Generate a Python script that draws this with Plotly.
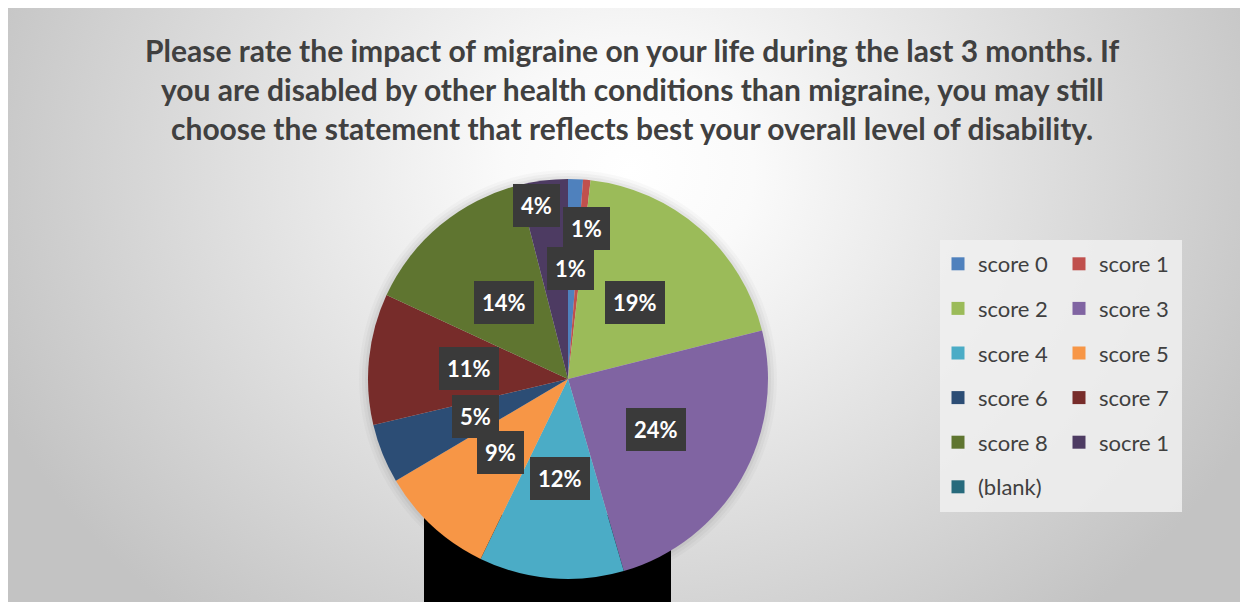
import base64
import math
import plotly.graph_objects as go

W, H = 1248, 602
OFF = 8  # page body margin: screen px = figure px + OFF

# ---------------- data ----------------
title_lines = [
    "Please rate the impact of migraine on your life during the last 3 months. If",
    "you are disabled by other health conditions than migraine, you may still",
    "choose the statement that reflects best your overall level of disability.",
]
labels = ["score 0", "score 1", "score 2", "score 3", "score 4", "score 5",
          "score 6", "score 7", "score 8", "socre 1", "(blank)"]
values = [1.2, 0.6, 19.3, 24.4, 11.7, 9.3, 4.8, 10.6, 14.1, 4.0, 0.0]
colors = ["#4F81BD", "#C0504D", "#9BBB59", "#8064A2", "#4BACC6", "#F79646",
          "#2C4D75", "#772C2A", "#5F7530", "#4D3B62", "#276A7C"]
legend_col1 = ["score 0", "score 2", "score 4", "score 6", "score 8", "(blank)"]
legend_col2 = ["score 1", "score 3", "score 5", "score 7", "socre 1"]

# label placement (fraction of pie radius, angle shift in degrees) -
# Excel moved the labels of the small slices
label_rfrac = [0.555, 0.76, 0.51, 0.51, 0.5, 0.5, 0.5, 0.5, 0.5, 0.88, 0.5]
label_dang = [-1.0, 1.5, 0, 0, 0, 0, 0, 0, 0, -3.0, 0]


def px_x(sx):
    """screen x (px) -> paper fraction"""
    return (sx - OFF) / W


def px_y(sy):
    """screen y (px) -> paper fraction"""
    return (H - (sy - OFF)) / H


# ---------------- geometry (screen pixels) ----------------
CX, CY, R = 568, 379, 200
dom_x = [px_x(CX - R), px_x(CX + R)]
dom_y = [px_y(CY + R), px_y(CY - R)]

fig = go.Figure()

fig.add_trace(go.Pie(
    labels=labels, values=values, sort=False, direction="clockwise",
    rotation=0, marker=dict(colors=colors, line=dict(width=0)),
    textinfo="none", showlegend=False, domain=dict(x=dom_x, y=dom_y),
    hovertemplate="%{label}: %{percent}<extra></extra>",
))

# legend entries (two columns, via two legends)
cmap = dict(zip(labels, colors))
for col, lg in ((legend_col1, "legend"), (legend_col2, "legend2")):
    for i, lab in enumerate(col):
        fig.add_trace(go.Scatter(
            x=[None], y=[None], mode="markers", name=lab,
            marker=dict(symbol="square", size=13, color=cmap[lab]),
            legend=lg, legendgroup=f"{lg}_{i}", showlegend=True,
            hoverinfo="skip",
        ))

# data labels in dark boxes at the slice mid-angles
total = sum(values)
annotations = []
cum = 0.0
for lab, v, rf, da in zip(labels, values, label_rfrac, label_dang):
    if v > 0:
        mid = (cum + v / 2) / total * 2 * math.pi + math.radians(da)
        sx = CX + rf * R * math.sin(mid)
        sy = CY - rf * R * math.cos(mid)
        annotations.append(dict(
            x=px_x(sx), y=px_y(sy), xref="paper", yref="paper",
            text=f"{round(v / total * 100)}%", showarrow=False,
            font=dict(family="Lato", size=22, color="white", weight="bold"),
            bgcolor="#3a3a3a", borderpad=8, borderwidth=0,
            xanchor="center", yanchor="middle",
        ))
    cum += v

# title lines
title_y = [50, 89, 128]
for txt, ty in zip(title_lines, title_y):
    annotations.append(dict(
        x=px_x(632), y=px_y(ty), xref="paper", yref="paper",
        text=txt, showarrow=False, xanchor="center", yanchor="middle",
        font=dict(family="Lato", size=30, color="#404040", weight="bold"),
    ))

# background gradient as svg image (figure coordinates)
gcx, gcy = 630 - OFF, 170 - OFF
svg = f"""<svg xmlns='http://www.w3.org/2000/svg' width='{W}' height='{H}' viewBox='0 0 {W} {H}' preserveAspectRatio='none'>
<defs><radialGradient id='g' gradientUnits='userSpaceOnUse' cx='{gcx}' cy='{gcy}' r='690'
 gradientTransform='translate({gcx} {gcy}) scale(1 0.85) translate({-gcx} {-gcy})'>
<stop offset='0' stop-color='#ffffff'/><stop offset='0.18' stop-color='#fafafa'/>
<stop offset='1' stop-color='#c3c3c3'/></radialGradient></defs>
<rect x='0' y='0' width='{W}' height='{H}' fill='url(#g)'/>
</svg>"""
src = "data:image/svg+xml;base64," + base64.b64encode(svg.encode()).decode()

shapes = [
    # black artefact rectangle behind the pie
    dict(type="rect", xref="paper", yref="paper", x0=px_x(424), x1=px_x(671),
         y0=0, y1=px_y(515), fillcolor="black", line=dict(width=0),
         layer="below"),
]
# soft shadow around the pie
for grow, alpha in ((9, 0.025), (6, 0.03), (3, 0.04)):
    shapes.append(dict(
        type="circle", xref="paper", yref="paper",
        x0=px_x(CX - R - grow), x1=px_x(CX + R + grow),
        y0=px_y(CY + R + grow), y1=px_y(CY - R - grow),
        fillcolor=f"rgba(0,0,0,{alpha})", line=dict(width=0), layer="below"))
# legend background
shapes.append(dict(
    type="rect", xref="paper", yref="paper", x0=px_x(940), x1=px_x(1182),
    y0=px_y(512), y1=px_y(240), fillcolor="rgba(240,240,240,0.85)",
    line=dict(width=0), layer="below"))

legend_common = dict(
    font=dict(family="Lato", size=22, color="#404040"),
    bgcolor="rgba(0,0,0,0)", borderwidth=0, traceorder="grouped",
    tracegroupgap=13, xanchor="left", yanchor="top", yref="paper",
    itemclick=False, itemdoubleclick=False,
)

fig.update_layout(
    width=W, height=H, margin=dict(l=0, r=0, t=0, b=0),
    paper_bgcolor="white", plot_bgcolor="rgba(0,0,0,0)",
    xaxis=dict(visible=False), yaxis=dict(visible=False),
    images=[dict(source=src, xref="paper", yref="paper", x=0, y=1,
                 sizex=1, sizey=1, xanchor="left", yanchor="top",
                 sizing="stretch", layer="below")],
    shapes=shapes, annotations=annotations,
    legend=dict(x=px_x(938), y=px_y(243), **legend_common),
    legend2=dict(x=px_x(1059), y=px_y(243), **legend_common),
    showlegend=True,
)

fig.write_html("out.html")
